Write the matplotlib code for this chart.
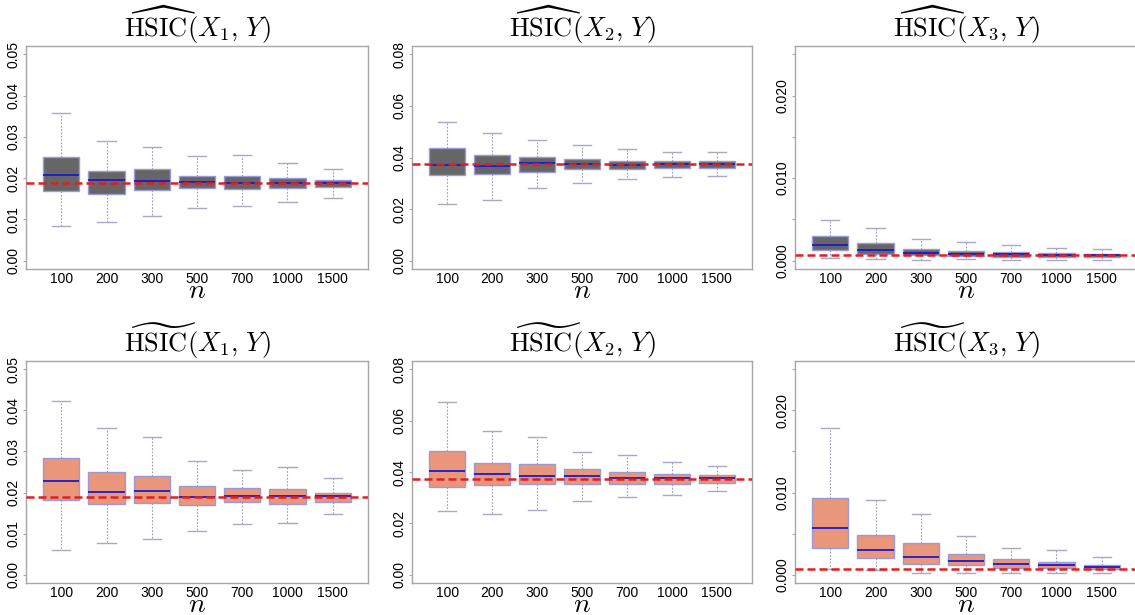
import numpy as np
import matplotlib.pyplot as plt
from matplotlib.ticker import FixedLocator, FuncFormatter

plt.rcParams['font.family'] = ['Liberation Sans', 'DejaVu Sans']
plt.rcParams['mathtext.fontset'] = 'cm'

sizes = ['100', '200', '300', '500', '700', '1000', '1500']

# true values (red dashed line)
true_x1 = 0.0188
true_x2 = 0.0373
true_x3 = 0.0007

# hat estimator, values x 1e-3
hat1_lo = [8.4, 9.4, 10.9, 12.7, 13.2, 14.2, 15.3]
hat1_q1 = [17.0, 16.2, 17.1, 17.6, 17.3, 17.7, 17.9]
hat1_med = [20.8, 19.5, 19.2, 19.0, 18.9, 18.8, 18.8]
hat1_q3 = [25.1, 21.7, 22.1, 20.6, 20.6, 20.0, 19.6]
hat1_hi = [35.7, 28.9, 27.6, 25.3, 25.5, 23.6, 22.1]

hat2_lo = [21.9, 23.5, 28.1, 30.0, 31.6, 32.3, 33.0]
hat2_q1 = [33.2, 33.6, 34.5, 35.6, 35.7, 36.1, 36.1]
hat2_med = [37.2, 36.7, 37.9, 37.5, 37.2, 37.4, 37.4]
hat2_q3 = [43.6, 40.9, 40.2, 39.4, 38.8, 38.8, 38.5]
hat2_hi = [53.6, 49.4, 46.6, 44.7, 43.2, 42.0, 42.0]

hat3_lo = [0.32, 0.20, 0.12, 0.24, 0.12, 0.08, 0.12]
hat3_q1 = [1.25, 0.81, 0.69, 0.56, 0.48, 0.48, 0.48]
hat3_med = [1.90, 1.33, 0.97, 0.85, 0.77, 0.73, 0.69]
hat3_q3 = [3.00, 2.14, 1.45, 1.21, 1.05, 0.93, 0.85]
hat3_hi = [4.90, 3.95, 2.62, 2.26, 1.90, 1.60, 1.41]

# tilde estimator, values x 1e-3
til1_lo = [6.1, 7.8, 8.7, 10.7, 12.4, 12.6, 14.9]
til1_q1 = [18.2, 17.3, 17.4, 17.0, 17.7, 17.3, 17.7]
til1_med = [22.8, 20.1, 20.4, 19.0, 19.1, 19.1, 19.1]
til1_q3 = [28.5, 24.9, 24.0, 21.6, 21.2, 20.8, 20.0]
til1_hi = [42.2, 35.6, 33.6, 27.6, 25.4, 26.2, 23.6]

til2_lo = [24.9, 23.8, 25.2, 28.7, 30.2, 31.0, 32.6]
til2_q1 = [34.1, 34.8, 35.3, 35.5, 35.3, 35.4, 35.7]
til2_med = [40.3, 39.1, 38.5, 38.4, 37.6, 37.6, 37.5]
til2_q3 = [48.1, 43.5, 43.0, 41.1, 40.1, 39.4, 39.0]
til2_hi = [67.2, 55.8, 53.7, 47.9, 46.5, 43.8, 42.5]

til3_lo = [0.73, 0.57, 0.24, 0.24, 0.24, 0.24, 0.24]
til3_q1 = [3.25, 1.99, 1.30, 1.14, 0.85, 0.81, 0.73]
til3_med = [5.72, 3.00, 2.15, 1.66, 1.26, 1.14, 0.97]
til3_q3 = [9.33, 4.83, 3.85, 2.56, 1.95, 1.58, 1.22]
til3_hi = [17.9, 9.09, 7.42, 4.75, 3.29, 2.96, 2.19]


def make_stats(lo, q1, med, q3, hi):
    out = []
    for i in range(len(sizes)):
        out.append(dict(whislo=lo[i] / 1000, q1=q1[i] / 1000, med=med[i] / 1000,
                        q3=q3[i] / 1000, whishi=hi[i] / 1000, fliers=[]))
    return out


panels = [
    (make_stats(hat1_lo, hat1_q1, hat1_med, hat1_q3, hat1_hi), true_x1, 1, 'widehat', '#666666'),
    (make_stats(hat2_lo, hat2_q1, hat2_med, hat2_q3, hat2_hi), true_x2, 2, 'widehat', '#666666'),
    (make_stats(hat3_lo, hat3_q1, hat3_med, hat3_q3, hat3_hi), true_x3, 3, 'widehat', '#666666'),
    (make_stats(til1_lo, til1_q1, til1_med, til1_q3, til1_hi), true_x1, 1, 'widetilde', '#e9967a'),
    (make_stats(til2_lo, til2_q1, til2_med, til2_q3, til2_hi), true_x2, 2, 'widetilde', '#e9967a'),
    (make_stats(til3_lo, til3_q1, til3_med, til3_q3, til3_hi), true_x3, 3, 'widetilde', '#e9967a'),
]

# per column: ylim top, tick step, label format
col_ylim = {1: 0.05, 2: 0.08, 3: 0.025}
col_step = {1: 0.01, 2: 0.02, 3: 0.005}
col_fmt = {1: '{:.2f}', 2: '{:.2f}', 3: '{:.3f}'}

lefts = [26 / 1135, 412 / 1135, 795 / 1135]
widths = [342 / 1135, 340 / 1135, 342 / 1135]
bottoms = [1 - 269 / 615, 1 - 583 / 615]
heights = [223 / 615, 222 / 615]

fig = plt.figure(figsize=(11.35, 6.15), dpi=100)
spine_col = '#a6a6a6'

for k, (stats, truth, col, accent, fill) in enumerate(panels):
    row = k // 3
    c = k % 3
    ax = fig.add_axes([lefts[c], bottoms[row], widths[c], heights[row]])
    ax.bxp(stats, positions=np.arange(1, 8), widths=0.8, showfliers=False,
           patch_artist=True,
           boxprops=dict(facecolor=fill, edgecolor='#9a9ad6', linewidth=1.0),
           medianprops=dict(color='#1a1acc', linewidth=1.3),
           whiskerprops=dict(color='#9a9ac0', linestyle=(0, (1.5, 1.5)), linewidth=0.8),
           capprops=dict(color='#a8a8c8', linewidth=1.0))
    ax.axhline(truth, color='#e02020', linestyle=(0, (3.2, 1.6)), linewidth=1.8, zorder=5)

    top = col_ylim[col]
    ax.set_ylim(-0.04 * top, 1.04 * top)
    ax.set_xlim(0.22, 7.78)
    step = col_step[col]
    ticks = np.arange(0, top + step / 2, step)
    ax.yaxis.set_major_locator(FixedLocator(ticks))
    fmt = col_fmt[col]
    if col == 3:
        ax.yaxis.set_major_formatter(FuncFormatter(
            lambda v, p, fmt=fmt: fmt.format(v) if round(v / 0.005) % 2 == 0 else ''))
    else:
        ax.yaxis.set_major_formatter(FuncFormatter(lambda v, p, fmt=fmt: fmt.format(v)))
    ax.set_xticks(np.arange(1, 8))
    ax.set_xticklabels(sizes)
    ax.tick_params(axis='x', length=0, pad=2.5, labelsize=10)
    ax.tick_params(axis='y', length=2.5, width=0.8, color=spine_col, pad=1.5, labelsize=10)
    for lab in ax.get_yticklabels():
        lab.set_rotation(90)
        lab.set_va('center')
    for s in ax.spines.values():
        s.set_color(spine_col)
        s.set_linewidth(1.0)
    ax.set_title(r'$\%s{\mathrm{HSIC}}(X_%d,\, Y)$' % (accent, col), fontsize=19, pad=3)
    # axis label "n", baseline just under the tick labels
    ax.annotate('$n$', xy=(0.5, 0), xycoords='axes fraction',
                xytext=(0, -21), textcoords='offset points',
                ha='center', va='baseline', fontsize=20)

fig.savefig('out.png', dpi=100)
